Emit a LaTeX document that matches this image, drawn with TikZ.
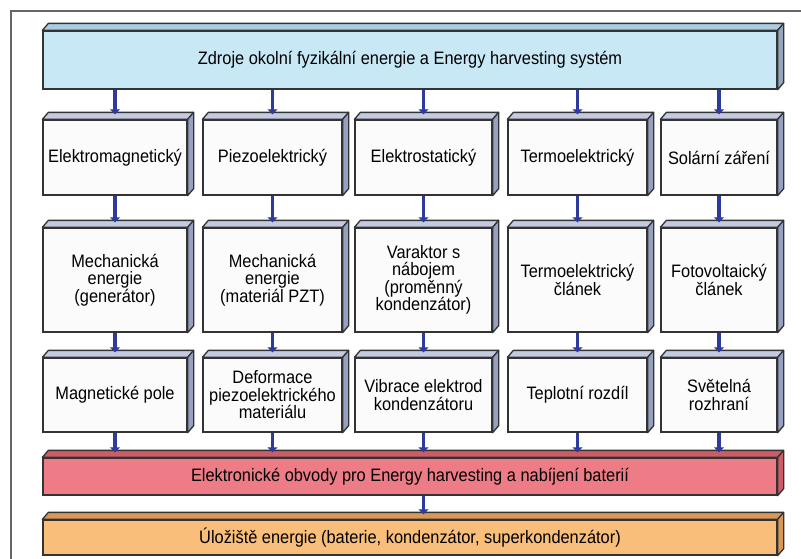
\documentclass[tikz,border=0pt]{standalone}
\usepackage{fontspec}
\setmainfont[FakeStretch=0.91]{Liberation Sans}
\usetikzlibrary{arrows.meta}

\definecolor{srcfill}{RGB}{200,232,246}
\definecolor{srctop}{RGB}{170,205,225}
\definecolor{srcside}{RGB}{150,165,190}
\definecolor{unittop}{RGB}{196,202,224}
\definecolor{unitside}{RGB}{150,160,192}
\definecolor{circfill}{RGB}{238,124,134}
\definecolor{circtop}{RGB}{205,92,102}
\definecolor{storfill}{RGB}{248,190,122}
\definecolor{stortop}{RGB}{215,152,88}
\definecolor{arrowblue}{RGB}{46,58,156}

% top and right face of a box
\newcommand{\slab}[3]{%
  \draw[face, fill=#2] (#1.north west) -- ++(6pt,7pt) -- ([shift={(6pt,7pt)}]#1.north east) -- (#1.north east) -- cycle;
  \draw[face, fill=#3] (#1.north east) -- ++(6pt,7pt) -- ([shift={(6pt,7pt)}]#1.south east) -- (#1.south east) -- cycle;
}

\begin{document}
\begin{tikzpicture}[
    x=1pt, y=-1pt,
    font=\fontsize{18}{17.5}\selectfont,
    unit/.style n args={2}{rectangle, draw=black!80, line width=1.3pt, fill=white!97!gray, align=center, inner sep=2pt, minimum width=#1, minimum height=#2},
    bar/.style={rectangle, draw=black!80, line width=1.3pt, align=center, inner sep=2pt, minimum width=734, minimum height=#1},
    face/.style={draw=black!80, line width=1.3pt, line join=round},
    arrow/.style={-{Triangle[length=5pt, width=10pt]}, line width=3.5pt, draw=arrowblue}
]
\useasboundingbox (0,0) rectangle (801,558);
\clip (0,0) rectangle (801,558);
\draw[black!60, line width=1.2pt] (11,570) -- (11,11) -- (810,11);

\node[bar=58, fill=srcfill] (src) at (410,60) {Zdroje okolní fyzikální energie a Energy harvesting systém};

\node[unit={144}{75}] (em) at (115,157.5) {Elektromagnetický};
\node[unit={139}{75}] (pz) at (272.5,157.5) {Piezoelektrický};
\node[unit={137}{75}] (es) at (423.5,157.5) {Elektrostatický};
\node[unit={139}{75}] (te) at (577.5,157.5) {Termoelektrický};
\node[unit={116}{75}] (sol) at (719,157.5) {Solární záření};

\node[unit={144}{104}] (mech) at (115,280) {Mechanická\\energie\\(generátor)};
\node[unit={139}{104}] (pzt) at (272.5,280) {Mechanická\\energie\\(materiál PZT)};
\node[unit={137}{104}] (var) at (423.5,280) {Varaktor s\\nábojem\\(proměnný\\kondenzátor)};
\node[unit={139}{104}] (tcl) at (577.5,280) {Termoelektrický\\článek};
\node[unit={116}{104}] (fcl) at (719,280) {Fotovoltaický\\článek};

\node[unit={144}{74}] (mag) at (115,395) {Magnetické pole};
\node[unit={139}{74}] (def) at (272.5,395) {Deformace\\piezoelektrického\\materiálu};
\node[unit={137}{74}] (vib) at (423.5,395) {Vibrace elektrod\\kondenzátoru};
\node[unit={139}{74}] (trd) at (577.5,395) {Teplotní rozdíl};
\node[unit={116}{74}] (svt) at (719,395) {Světelná\\rozhraní};

\node[bar=37, fill=circfill] (circ) at (410,476.5) {Elektronické obvody pro Energy harvesting a nabíjení baterií};
\node[bar=35, fill=storfill] (stor) at (410,537.5) {Úložiště energie (baterie, kondenzátor, superkondenzátor)};

\slab{src}{srctop}{srcside}
\foreach \n in {em,pz,es,te,sol,mech,pzt,var,tcl,fcl,mag,def,vib,trd,svt}
  {\slab{\n}{unittop}{unitside}}
\slab{circ}{circtop}{circtop}
\slab{stor}{stortop}{stortop}

\draw[arrow] (src.south -| em) -- ([yshift=5pt]em.north);
\draw[arrow] (src.south -| pz) -- ([yshift=5pt]pz.north);
\draw[arrow] (src.south -| es) -- ([yshift=5pt]es.north);
\draw[arrow] (src.south -| te) -- ([yshift=5pt]te.north);
\draw[arrow] (src.south -| sol) -- ([yshift=5pt]sol.north);

\draw[arrow] (em) -- ([yshift=5pt]mech.north);
\draw[arrow] (pz) -- ([yshift=5pt]pzt.north);
\draw[arrow] (es) -- ([yshift=5pt]var.north);
\draw[arrow] (te) -- ([yshift=5pt]tcl.north);
\draw[arrow] (sol) -- ([yshift=5pt]fcl.north);

\draw[arrow] (mech) -- ([yshift=5pt]mag.north);
\draw[arrow] (pzt) -- ([yshift=5pt]def.north);
\draw[arrow] (var) -- ([yshift=5pt]vib.north);
\draw[arrow] (tcl) -- ([yshift=5pt]trd.north);
\draw[arrow] (fcl) -- ([yshift=5pt]svt.north);

\draw[arrow] (mag) -- ([yshift=5pt]circ.north -| mag);
\draw[arrow] (def) -- ([yshift=5pt]circ.north -| def);
\draw[arrow] (vib) -- ([yshift=5pt]circ.north -| vib);
\draw[arrow] (trd) -- ([yshift=5pt]circ.north -| trd);
\draw[arrow] (svt) -- ([yshift=5pt]circ.north -| svt);

\draw[arrow] (circ.south -| vib) -- ([yshift=5pt]stor.north -| vib);
\end{tikzpicture}
\end{document}
